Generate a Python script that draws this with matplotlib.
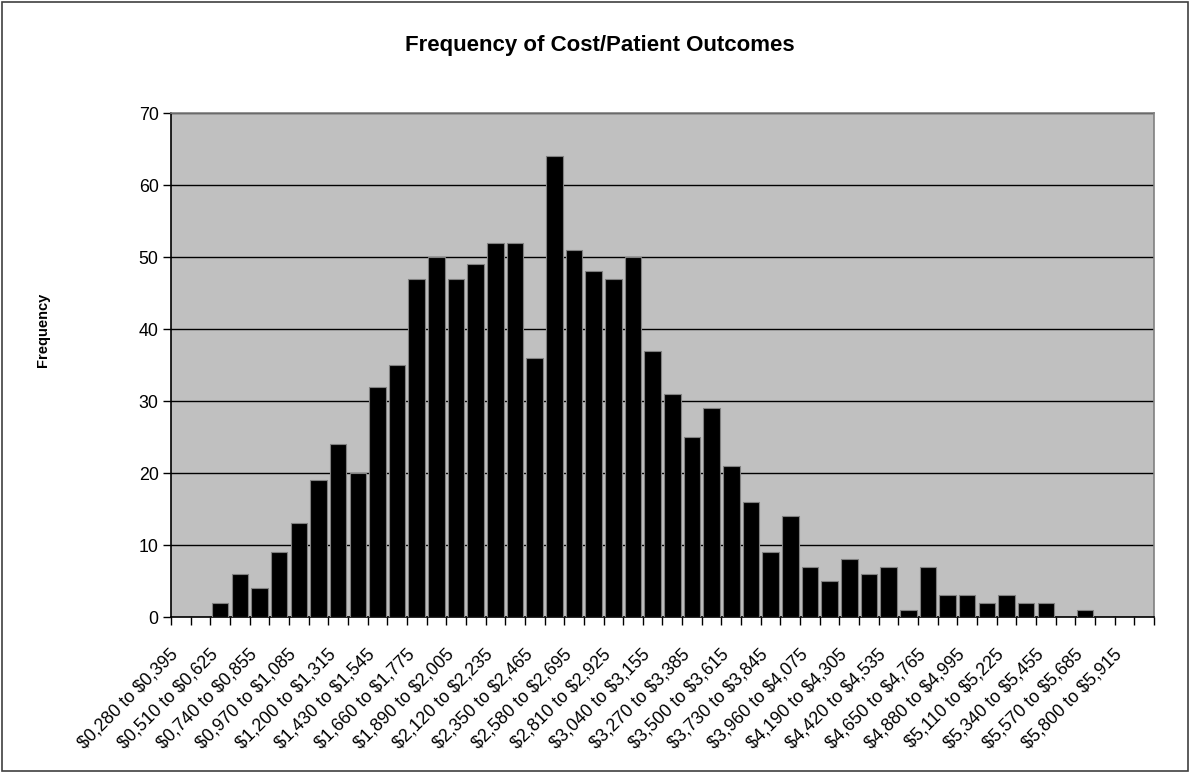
import matplotlib
matplotlib.use("Agg")
import matplotlib.pyplot as plt
from matplotlib.transforms import ScaledTranslation
from matplotlib.patches import Rectangle
import numpy as np

plt.rcParams['font.family'] = ['Liberation Sans', 'DejaVu Sans']

bin_starts = [0.280 + 0.115 * i for i in range(50)]
categories = ["$%s to $%s" % (("%.3f" % s).replace('.', ','), ("%.3f" % (s + 0.115)).replace('.', ',')) for s in bin_starts]
frequencies = [0, 0, 2, 6, 4, 9, 13, 19, 24, 20,
               32, 35, 47, 50, 47, 49, 52, 52, 36, 64,
               51, 48, 47, 50, 37, 31, 25, 29, 21, 16,
               9, 14, 7, 5, 8, 6, 7, 1, 7, 3,
               3, 2, 3, 2, 2, 0, 1, 0, 0, 0]
yticks = [0, 10, 20, 30, 40, 50, 60, 70]

fig = plt.figure(figsize=(11.9, 7.73), dpi=100)
fig.patches.append(Rectangle((0.002, 0.003), 0.996, 0.994, transform=fig.transFigure,
                             fill=False, edgecolor='#404040', linewidth=1.2))
ax = fig.add_axes([171/1190, 1 - 617/773, (1154 - 171)/1190, (617 - 113)/773])
ax.set_facecolor('#C0C0C0')

x = np.arange(len(frequencies))
ax.bar(x, frequencies, width=0.84, color='black', edgecolor='#808080', linewidth=0.8, zorder=3)

ax.set_xlim(-0.5, len(frequencies) - 0.5)
ax.set_ylim(0, 70)
ax.set_yticks(yticks)
ax.yaxis.grid(True, color='black', linewidth=1.0, zorder=1)
ax.set_axisbelow(True)

ax.set_xticks(x[::2])
ax.set_xticklabels([c.replace('$', r'\$') for c in categories[::2]], rotation=45, ha='right', va='center',
                   rotation_mode='anchor', fontsize=12.8)
ax.set_xticks(np.arange(len(frequencies) + 1) - 0.5, minor=True)
ax.tick_params(axis='x', which='major', length=0, pad=25)
ax.tick_params(axis='x', which='minor', length=6, width=1, color='black', direction='out')
ax.tick_params(axis='y', length=6, width=1, color='black', labelsize=12.8, pad=3)
off = ScaledTranslation(-5/100, 0, fig.dpi_scale_trans)
for lab in ax.get_xticklabels():
    lab.set_transform(lab.get_transform() + off)

for s in ['top', 'right']:
    ax.spines[s].set_color('#808080')
    ax.spines[s].set_linewidth(1.2)
for s in ['left', 'bottom']:
    ax.spines[s].set_color('black')
    ax.spines[s].set_linewidth(1.2)

fig.text(600/1190, 1 - 45/773, 'Frequency of Cost/Patient Outcomes', ha='center', va='center',
         fontsize=16, fontweight='bold')
fig.text(43/1190, 1 - 330/773, 'Frequency', ha='center', va='center', rotation=90,
         fontsize=10.5, fontweight='bold')

fig.savefig('out.png', dpi=100)
